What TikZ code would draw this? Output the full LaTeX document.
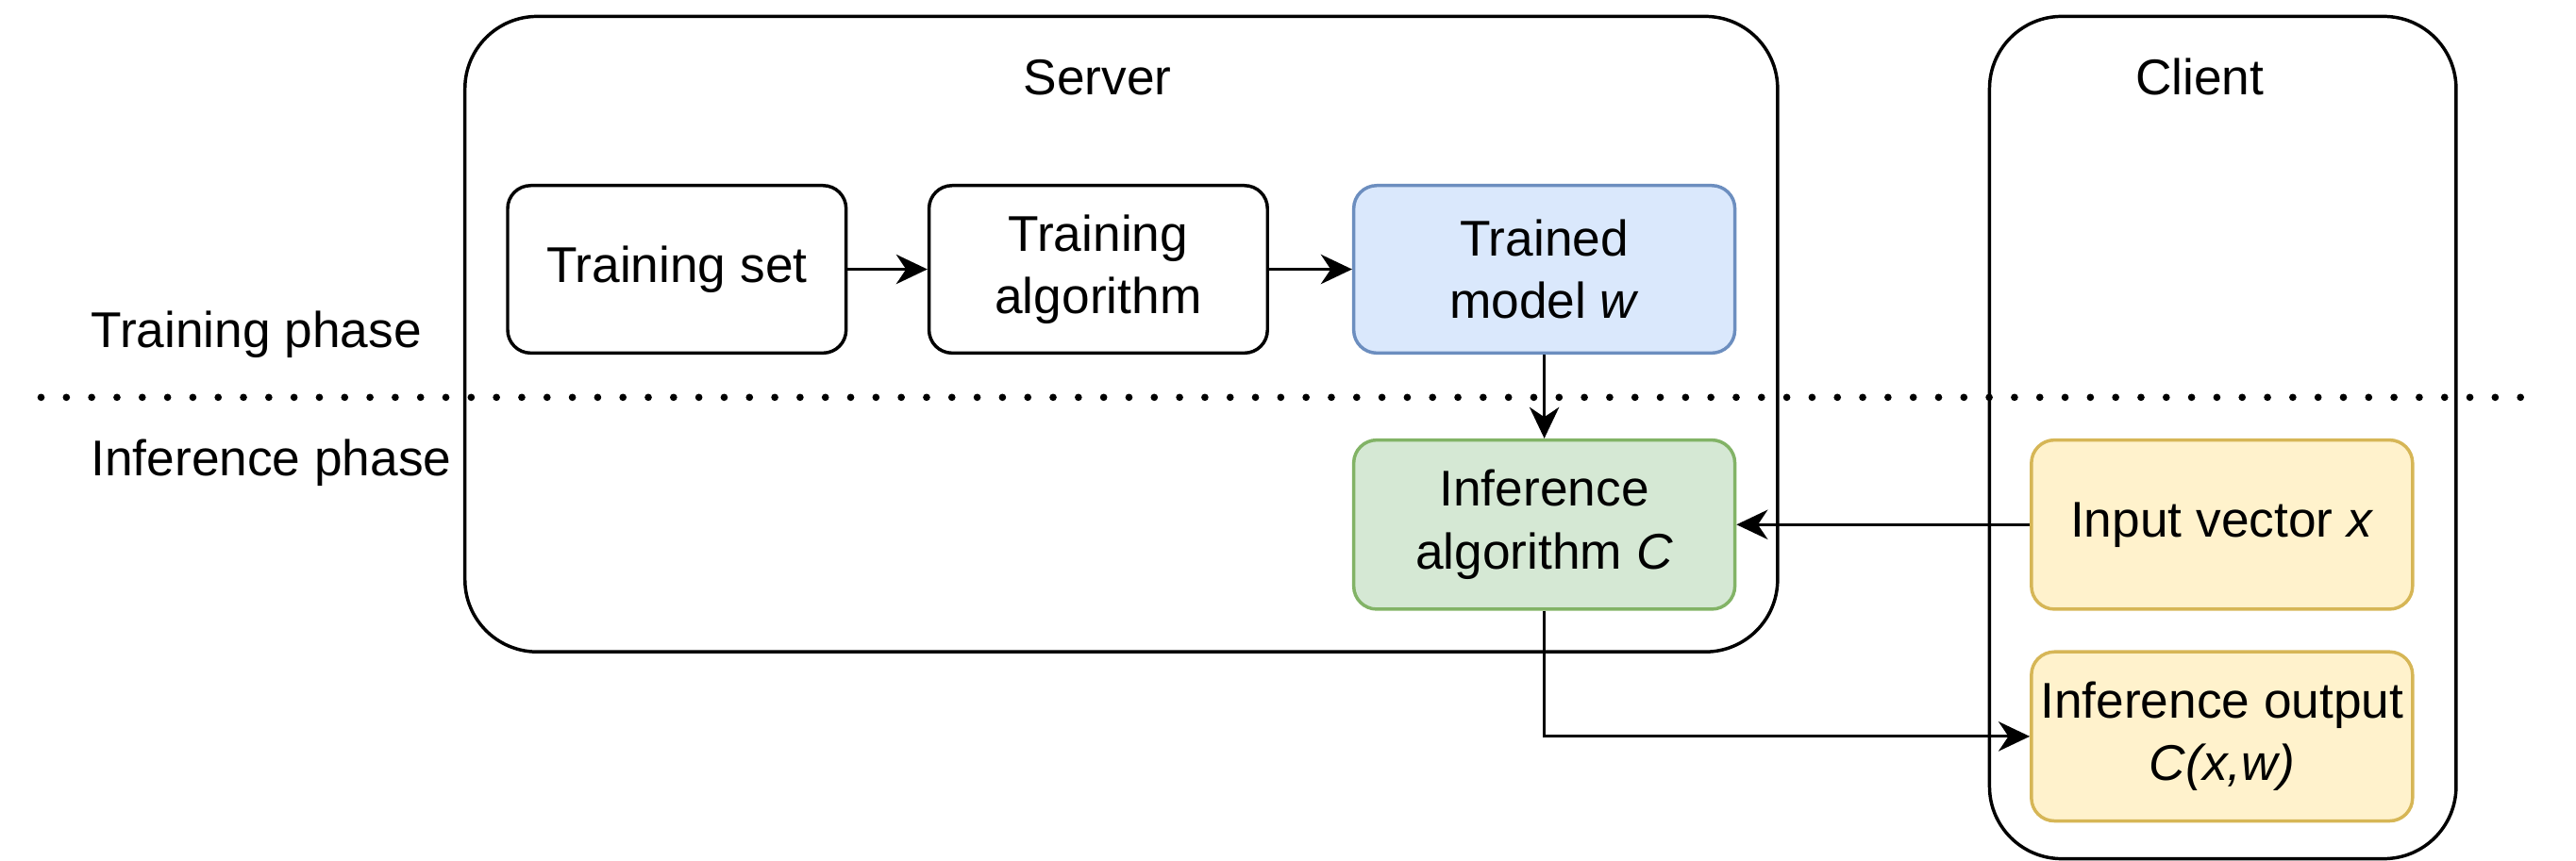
\documentclass[tikz,border=0pt]{standalone}
\usepackage{fontspec}
\setmainfont{Liberation Sans}
\usetikzlibrary{arrows.meta}

\definecolor{blueFill}{HTML}{DAE8FC}
\definecolor{blueLine}{HTML}{6C8EBF}
\definecolor{greenFill}{HTML}{D5E8D4}
\definecolor{greenLine}{HTML}{82B366}
\definecolor{yellowFill}{HTML}{FFF2CC}
\definecolor{yellowLine}{HTML}{D6B656}

\begin{document}
\begin{tikzpicture}[x=0.5pt,y=-0.5pt,
  every node/.style={font=\fontsize{15.3}{19}\selectfont, inner sep=0pt},
  frame/.style={draw=black, line width=1pt, rounded corners=22pt},
  stepbox/.style={draw=black, fill=white, line width=1pt, rounded corners=7pt,
                  align=center, minimum height=51pt},
  modelbox/.style={stepbox, draw=blueLine, fill=blueFill},
  inferbox/.style={stepbox, draw=greenLine, fill=greenFill},
  clientbox/.style={stepbox, draw=yellowLine, fill=yellowFill},
  arr/.style={line width=0.9pt, -{Stealth[length=9.5pt,width=9pt,inset=3pt]}},
  phaseline/.style={line width=2.2pt, line cap=round, dash pattern=on 0pt off 7.7pt}
]
\useasboundingbox (0,0) rectangle (1568,524);

% containers
\node[frame, minimum width=399.5pt, minimum height=193.5pt] (server) at (682.5,203.5) {};
\node[frame, minimum width=142pt, minimum height=256.5pt] (client) at (1353,266.5) {};
\node (serverlbl) at (668,47) {Server};
\node (clientlbl) at (1339,47) {Client};

% phase separator
\coordinate (dotL) at (25,242);
\coordinate (dotR) at (1548,242);
\draw[phaseline] (dotL) -- (dotR);
\node[anchor=west] (trainlbl) at (55,204) {Training phase};
\node[anchor=west] (inferlbl) at (55,282) {Inference phase};

% training pipeline
\node[stepbox, minimum width=103pt] (tset) at (412,164) {Training set};
\node[stepbox, minimum width=103pt] (talg) at (668.5,164) {Training\\algorithm};
\node[modelbox, minimum width=116pt] (tmodel) at (940,164) {Trained\\model \textit{w}};

% inference
\node[inferbox, minimum width=116pt, minimum height=51.5pt] (ialg) at (940,319.5) {Inference\\algorithm \textit{C}};
\node[clientbox, minimum width=116pt, minimum height=51.5pt] (ivec) at (1352.5,319.5) {Input vector \textit{x}};
\node[clientbox, minimum width=116pt, minimum height=51.5pt] (iout) at (1352.5,448.5) {Inference output\\\textit{C(x,w)}};

% connectors
\draw[arr] (tset) -- (talg);
\draw[arr] (talg) -- (tmodel);
\draw[arr] (tmodel) -- (ialg);
\draw[arr] (ivec) -- (ialg);
\draw[arr] (ialg.south) |- (iout.west);
\end{tikzpicture}
\end{document}
